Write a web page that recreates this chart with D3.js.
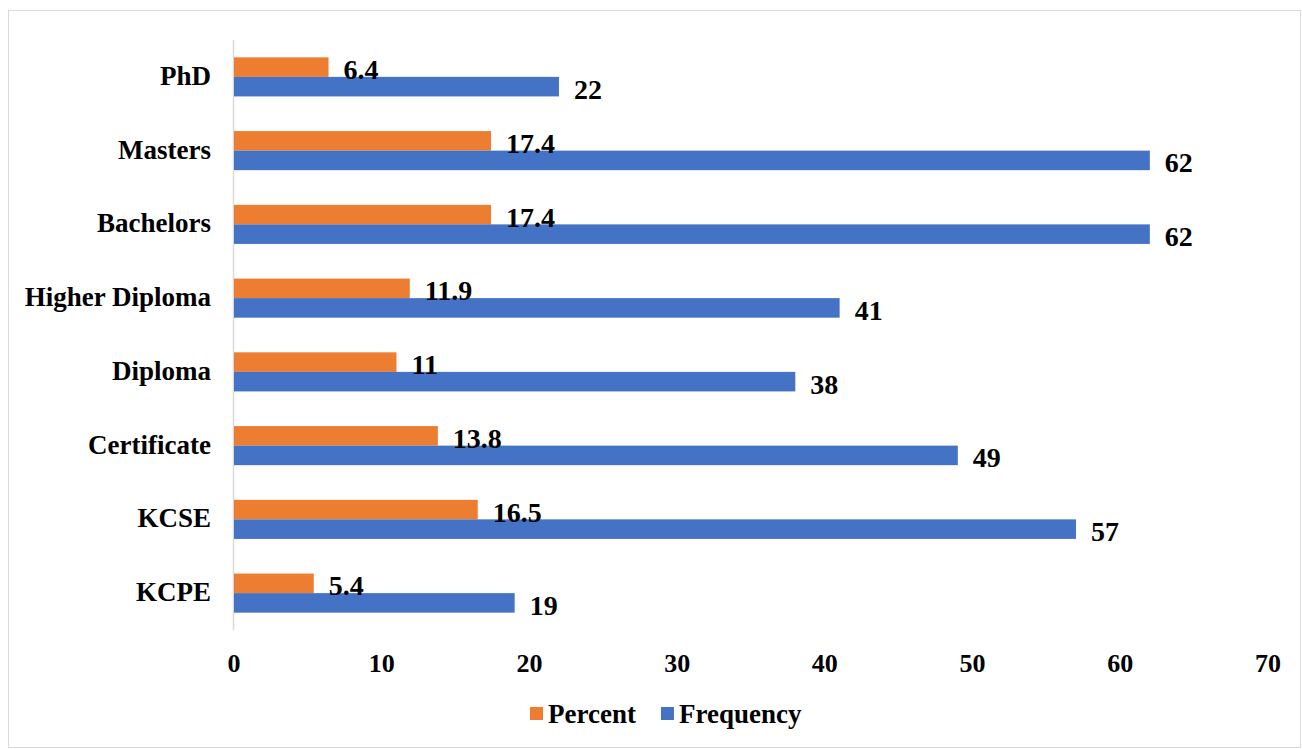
<!DOCTYPE html>
<html>
<head>
<meta charset="utf-8">
<script src="https://cdn.jsdelivr.net/npm/d3@7"></script>
<style>
  body { margin: 0; background: #fff; }
  text { font-family: "Liberation Serif", "Times New Roman", serif; font-weight: bold; fill: #000; }
</style>
</head>
<body>
<svg id="chart" width="1302" height="749"></svg>
<script>
// data
var categories = ["PhD", "Masters", "Bachelors", "Higher Diploma", "Diploma", "Certificate", "KCSE", "KCPE"];
var percent = [6.4, 17.4, 17.4, 11.9, 11, 13.8, 16.5, 5.4];
var frequency = [22, 62, 62, 41, 38, 49, 57, 19];
var xTicks = [0, 10, 20, 30, 40, 50, 60, 70];
var seriesNames = ["Percent", "Frequency"];
var seriesColors = ["#ED7D31", "#4472C4"];

var svg = d3.select("#chart");
var W = 1302, H = 749;

// outer chart border
svg.append("rect")
    .attr("x", 8.5).attr("y", 10.5)
    .attr("width", W - 10).attr("height", H - 12)
    .attr("fill", "#fff")
    .attr("stroke", "#d9d9d9");

var plotLeft = 234, plotRight = 1268, plotTop = 40, plotBottom = 630;

var x = d3.scaleLinear().domain([0, 70]).range([plotLeft, plotRight]);
var y = d3.scaleBand().domain(categories).range([plotTop, plotBottom]).paddingInner(0.47).paddingOuter(0.235);
var sub = d3.scaleBand().domain(seriesNames).range([0, y.bandwidth()]);

// vertical axis line
svg.append("line")
    .attr("x1", plotLeft - 0.5).attr("x2", plotLeft - 0.5)
    .attr("y1", plotTop).attr("y2", plotBottom)
    .attr("stroke", "#d9d9d9").attr("stroke-width", 1.5);

var rows = categories.map(function (c, i) {
    return { cat: c, values: [percent[i], frequency[i]] };
});

var g = svg.selectAll("g.row").data(rows).enter().append("g")
    .attr("class", "row")
    .attr("transform", function (d) { return "translate(0," + y(d.cat) + ")"; });

g.each(function (d) {
    var row = d3.select(this);
    seriesNames.forEach(function (s, k) {
        var v = d.values[k];
        row.append("rect")
            .attr("x", x(0))
            .attr("y", sub(s))
            .attr("width", x(v) - x(0))
            .attr("height", sub.bandwidth())
            .attr("fill", seriesColors[k]);
    });
});
// value labels on top of both bars
g.each(function (d) {
    var row = d3.select(this);
    seriesNames.forEach(function (s, k) {
        var v = d.values[k];
        row.append("text")
            .attr("x", x(v) + 15)
            .attr("y", sub(s) + sub.bandwidth() / 2 + 12)
            .attr("font-size", 28)
            .text(v);
    });
});

// category labels
svg.selectAll("text.cat").data(categories).enter().append("text")
    .attr("class", "cat")
    .attr("x", 211)
    .attr("y", function (d) { return y(d) + y.bandwidth() / 2 + 8; })
    .attr("text-anchor", "end")
    .attr("font-size", 27)
    .text(function (d) { return d; });

// x tick labels
svg.selectAll("text.tick").data(xTicks).enter().append("text")
    .attr("class", "tick")
    .attr("x", function (d) { return x(d); })
    .attr("y", 672)
    .attr("text-anchor", "middle")
    .attr("font-size", 26)
    .text(function (d) { return d; });

// legend
var legend = svg.append("g").attr("transform", "translate(530,0)");
var lx = 0;
seriesNames.forEach(function (s, k) {
    legend.append("rect")
        .attr("x", lx).attr("y", 707)
        .attr("width", 13).attr("height", 13)
        .attr("fill", seriesColors[k]);
    var t = legend.append("text")
        .attr("x", lx + 18).attr("y", 723)
        .attr("font-size", 27)
        .text(s);
    lx += 18 + t.node().getComputedTextLength() + 25;
});
</script>
</body>
</html>
